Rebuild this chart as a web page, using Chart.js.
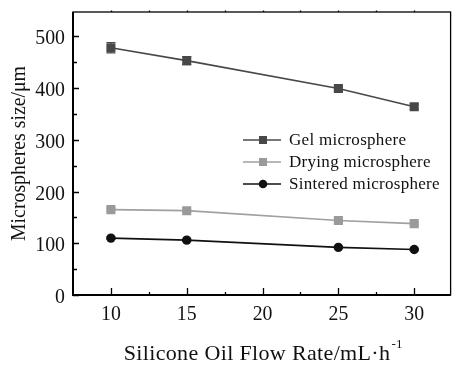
<!DOCTYPE html>
<html>
<head>
<meta charset="utf-8">
<script src="https://cdn.jsdelivr.net/npm/chart.js@4/dist/chart.umd.min.js"></script>
<style>
html,body{margin:0;padding:0;background:#fff;}
#wrap{width:457px;height:365px;position:relative;}
</style>
</head>
<body>
<div id="wrap"><canvas id="c" width="457" height="365"></canvas></div>
<script>
const flowRates = [10, 15, 25, 30];
const gelSize = [478, 453, 399, 364];
const gelErr = [10, 8, 5, 5];
const dryingSize = [165, 163, 144, 138];
const dryingErr = [3, 3, 3, 3];
const sinteredSize = [110, 106, 92, 88];
const sinteredErr = [2, 2, 2, 2];
const seriesNames = ['Gel microsphere', 'Drying microsphere', 'Sintered microsphere'];
const xTickValues = [10, 15, 20, 25, 30];
const yTickValues = [0, 100, 200, 300, 400, 500];
const xTitle = 'Silicone Oil Flow Rate/mL·h';
const xTitleSup = '-1';
const yTitle = 'Microspheres size/μm';

const FONT = '"Liberation Serif", "Times New Roman", serif';
const colors = ['#484848', '#9a9a9a', '#111111'];
const lineColors = ['#484848', '#a0a0a0', '#111111'];
const errs = [gelErr, dryingErr, sinteredErr];

function pts(ys){ return flowRates.map((x,i)=>({x:x,y:ys[i]})); }

function narrowText(ctx, text, x, y, align, sx) {
  ctx.save();
  ctx.translate(x, y);
  ctx.scale(sx, 1);
  ctx.textAlign = align;
  ctx.fillText(text, 0, 0);
  ctx.restore();
}

const framePlugin = {
  id: 'frame',
  afterDatasetsDraw(chart){
    const ctx = chart.ctx, a = chart.chartArea;
    const xs = chart.scales.x, ys = chart.scales.y;
    ctx.save();
    // error bars
    chart.data.datasets.forEach((ds, di) => {
      const e = errs[di];
      ctx.strokeStyle = colors[di];
      ctx.lineWidth = 1.2;
      ds.data.forEach((p, i) => {
        const px = xs.getPixelForValue(p.x);
        const y1 = ys.getPixelForValue(p.y + e[i]);
        const y2 = ys.getPixelForValue(p.y - e[i]);
        ctx.beginPath();
        ctx.moveTo(px, y1); ctx.lineTo(px, y2);
        ctx.moveTo(px - 4.5, y1); ctx.lineTo(px + 4.5, y1);
        ctx.moveTo(px - 4.5, y2); ctx.lineTo(px + 4.5, y2);
        ctx.stroke();
      });
    });
    // frame
    ctx.strokeStyle = '#000';
    ctx.lineWidth = 1.3;
    ctx.strokeRect(a.left, a.top, a.right - a.left, a.bottom - a.top);
    ctx.lineWidth = 2;
    ctx.beginPath();
    ctx.moveTo(a.left, a.top); ctx.lineTo(a.left, a.bottom); ctx.lineTo(a.right, a.bottom);
    ctx.stroke();
    // ticks
    ctx.lineWidth = 1.3;
    ctx.beginPath();
    for (let v = 0; v <= 500; v += 50) {
      const py = Math.round(ys.getPixelForValue(v)) + 0.5;
      const len = (v % 100 === 0) ? 6 : 4;
      ctx.moveTo(a.left, py); ctx.lineTo(a.left + len, py);
    }
    for (let v = 10; v <= 30; v += 2.5) {
      const px = Math.round(xs.getPixelForValue(v)) + 0.5;
      const len = (v % 5 === 0) ? 7 : 3;
      ctx.moveTo(px, a.bottom); ctx.lineTo(px, a.bottom - len);
      ctx.moveTo(px, a.top); ctx.lineTo(px, a.top - 1.5);
    }
    ctx.stroke();
    // tick labels
    ctx.fillStyle = '#111';
    ctx.font = '22px ' + FONT;
    ctx.textBaseline = 'alphabetic';
    yTickValues.forEach(v => {
      narrowText(ctx, String(v), a.left - 8, ys.getPixelForValue(v) + 8, 'right', 0.9);
    });
    xTickValues.forEach(v => {
      narrowText(ctx, String(v), xs.getPixelForValue(v), 320, 'center', 0.9);
    });
    // legend
    const rows = [140, 162, 184];
    const shapes = ['rect', 'rect', 'circle'];
    ctx.font = '17px ' + FONT;
    ctx.textBaseline = 'middle';
    ctx.textAlign = 'left';
    try { ctx.letterSpacing = '0.3px'; } catch(e) {}
    rows.forEach((ry, i) => {
      ctx.strokeStyle = lineColors[i];
      ctx.lineWidth = 1.5;
      ctx.beginPath(); ctx.moveTo(243, ry); ctx.lineTo(281, ry); ctx.stroke();
      ctx.fillStyle = colors[i];
      if (shapes[i] === 'rect') ctx.fillRect(259, ry - 4, 8, 8);
      else { ctx.beginPath(); ctx.arc(263, ry, 4.3, 0, Math.PI*2); ctx.fill(); }
      ctx.fillStyle = '#111';
      ctx.fillText(seriesNames[i], 289, ry + 1);
    });
    // x title
    try { ctx.letterSpacing = '0.35px'; } catch(e) {}
    ctx.fillStyle = '#111';
    ctx.textBaseline = 'alphabetic';
    ctx.font = '22px ' + FONT;
    const mainW = ctx.measureText(xTitle).width;
    ctx.font = '13px ' + FONT;
    const supW = ctx.measureText(xTitleSup).width;
    const startX = (a.left + a.right) / 2 - (mainW + supW) / 2 + 1;
    ctx.font = '22px ' + FONT;
    ctx.textAlign = 'left';
    ctx.fillText(xTitle, startX, 360);
    ctx.font = '13px ' + FONT;
    ctx.fillText(xTitleSup, startX + mainW + 1, 348);
    try { ctx.letterSpacing = '0px'; } catch(e) {}
    // y title (narrow glyphs)
    ctx.save();
    ctx.translate(25, (a.top + a.bottom) / 2);
    ctx.rotate(-Math.PI / 2);
    ctx.scale(0.9, 1);
    ctx.font = '22px ' + FONT;
    ctx.textAlign = 'center';
    ctx.fillText(yTitle, 0, 0);
    ctx.restore();
    ctx.restore();
  }
};

new Chart(document.getElementById('c'), {
  type: 'line',
  data: {
    datasets: [
      { label: seriesNames[0], data: pts(gelSize), borderColor: lineColors[0], backgroundColor: colors[0], borderWidth: 1.6, pointStyle: 'rect', pointRadius: 6.4, pointBorderWidth: 0, tension: 0 },
      { label: seriesNames[1], data: pts(dryingSize), borderColor: lineColors[1], backgroundColor: colors[1], borderWidth: 1.6, pointStyle: 'rect', pointRadius: 6.4, pointBorderWidth: 0, tension: 0 },
      { label: seriesNames[2], data: pts(sinteredSize), borderColor: lineColors[2], backgroundColor: colors[2], borderWidth: 1.6, pointStyle: 'circle', pointRadius: 4.7, pointBorderWidth: 0, tension: 0 }
    ]
  },
  options: {
    responsive: false,
    animation: false,
    layout: { padding: { left: 0, top: 12, right: 1, bottom: 0 } },
    plugins: { legend: { display: false }, tooltip: { enabled: false } },
    scales: {
      x: {
        type: 'linear', min: 7.5, max: 32.4,
        afterFit(s){ s.height = 70; },
        afterBuildTicks(s){ s.ticks = xTickValues.map(v => ({value: v})); },
        grid: { display: false, drawTicks: false },
        border: { display: false },
        ticks: { display: false },
        title: { display: false }
      },
      y: {
        type: 'linear', min: 0, max: 547,
        afterFit(s){ s.width = 73; },
        afterBuildTicks(s){ s.ticks = yTickValues.map(v => ({value: v})); },
        grid: { display: false, drawTicks: false },
        border: { display: false },
        ticks: { display: false },
        title: { display: false }
      }
    }
  },
  plugins: [framePlugin]
});
</script>
</body>
</html>
